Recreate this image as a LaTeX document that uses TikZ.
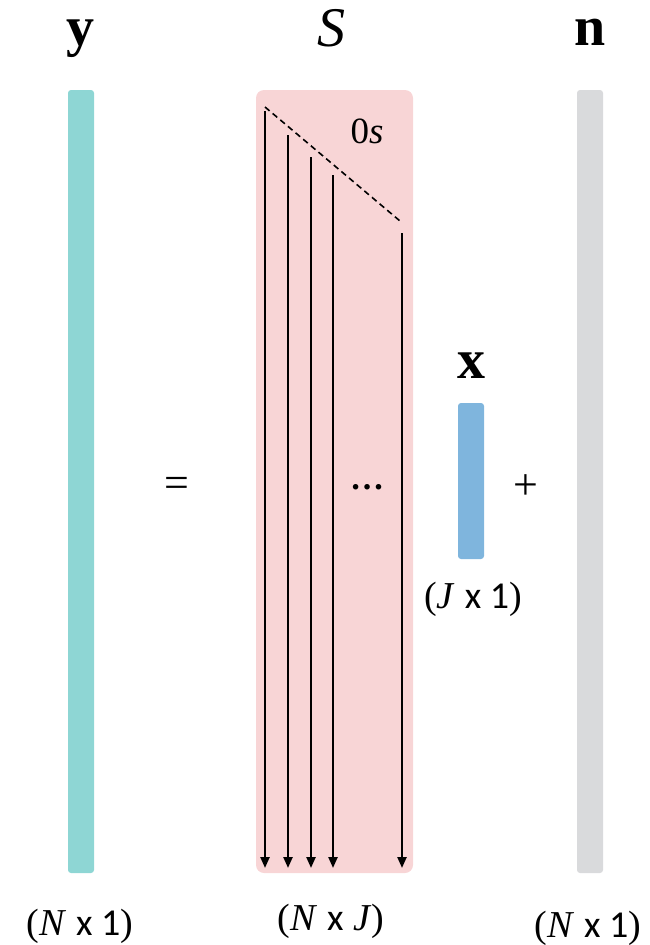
\documentclass[tikz,border=0pt]{standalone}
\usepackage{fontspec}
\setmainfont{Liberation Serif}
\newfontfamily\carl{Carlito}
\usetikzlibrary{arrows.meta}
\definecolor{ycol}{HTML}{8ED6D4}
\definecolor{scol}{HTML}{F8D5D6}
\definecolor{ncol}{HTML}{D9DADC}
\definecolor{xcol}{HTML}{7FB5DD}
\begin{document}
\begin{tikzpicture}[x=1pt,y=-1pt,
  bar/.style={rectangle,draw=none,rounded corners=3pt,inner sep=0pt},
  toplab/.style={font=\fontsize{56}{60}\selectfont,inner sep=0pt,anchor=base},
  botlab/.style={font=\fontsize{38}{42}\selectfont,inner sep=0pt,anchor=base},
  col/.style={line width=2.3pt,-{Triangle[length=11pt,width=9pt]}},
  sym/.style={font=\fontsize{44}{48}\selectfont,inner sep=0pt}]
\useasboundingbox (0,0) rectangle (650,945);
% bars
\node[bar,fill=ycol,minimum width=26pt,minimum height=783pt] (ybar) at (81,481.5) {};
\node[bar,fill=ncol,minimum width=26pt,minimum height=783pt] (nbar) at (590,481.5) {};
\node[bar,fill=scol,rounded corners=8pt,minimum width=157pt,minimum height=783pt] (sbar) at (334.5,481.5) {};
\node[bar,fill=xcol,minimum width=26pt,minimum height=156pt] (xbar) at (471,481) {};
% labels
\node[toplab] (ylab) at (80.5,45) {\bfseries y};
\node[toplab] (slab) at (331.5,46) {\itshape S};
\node[toplab] (nlab) at (590.5,45) {\bfseries n};
\node[toplab] (xlab) at (471,378) {\bfseries x};
\node[botlab] (ydim) at (80,935) {(\textit{N} {\carl x 1})};
\node[botlab] (sdim) at (331,930) {(\textit{N} {\carl x} \textit{J\/})};
\node[botlab] (ndim) at (588,937) {(\textit{N} {\carl x 1})};
\node[botlab] (xdim) at (473,608) {(\textit{J} {\carl x 1})};
\node[sym] (eq) at (177,487) {=};
\node[sym] (plus) at (526,487) {+};
\node[font=\bfseries\fontsize{34}{36}\selectfont,inner sep=0pt,anchor=base] (dots) at (367,489) {…};
\node[font=\fontsize{37}{40}\selectfont,inner sep=0pt,anchor=base] (zeros) at (367,143) {0\textit{s}};
% columns
\coordinate (c1) at (265,111); \coordinate (e1) at (265,868);
\coordinate (c2) at (288,135); \coordinate (e2) at (288,868);
\coordinate (c3) at (311,157); \coordinate (e3) at (311,868);
\coordinate (c4) at (333,175); \coordinate (e4) at (333,868);
\coordinate (c5) at (402,233); \coordinate (e5) at (402,868);
\foreach \i in {1,...,5} \draw[col] (c\i) -- (e\i);
\coordinate (d1) at (265,107);
\coordinate (d2) at (400,221);
\draw[line width=1.6pt,dash pattern=on 6pt off 4pt] (d1) -- (d2);
\end{tikzpicture}
\end{document}
